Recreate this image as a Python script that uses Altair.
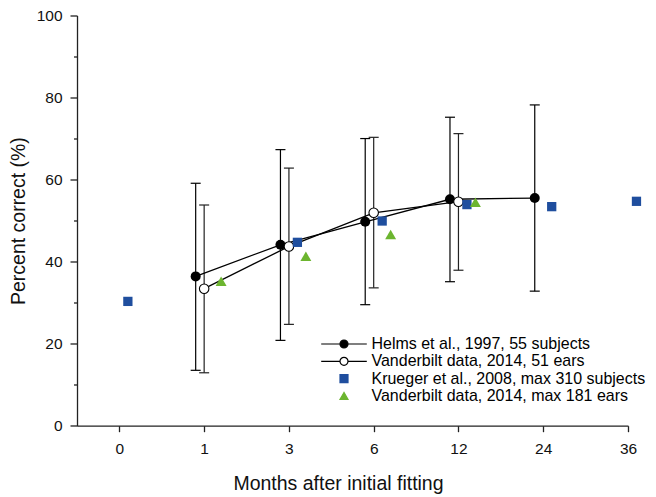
import altair as alt
import pandas as pd
import numpy as np

months = ["0", "1", "3", "6", "12", "24", "36"]

series_names = [
    "Helms et al., 1997, 55 subjects",
    "Vanderbilt data, 2014, 51 ears",
    "Krueger et al., 2008, max 310 subjects",
    "Vanderbilt data, 2014, max 181 ears",
]

helms_months = ["1", "3", "6", "12", "24"]
helms_mean = [36.4, 44.1, 49.7, 55.2, 55.5]
helms_lo = [13.5, 20.8, 29.5, 35.1, 32.8]
helms_hi = [59.1, 67.3, 70.0, 75.2, 78.2]

vu51_months = ["1", "3", "6", "12"]
vu51_mean = [33.4, 43.7, 51.9, 54.6]
vu51_lo = [12.9, 24.7, 33.6, 37.9]
vu51_hi = [53.8, 62.8, 70.3, 71.2]

krueger_months = ["0", "3", "6", "12", "24", "36"]
krueger_mean = [30.3, 44.7, 49.9, 53.9, 53.4, 54.7]

vu181_months = ["1", "3", "6", "12"]
vu181_mean = [35.2, 41.3, 46.6, 54.5]

y_major = [0, 20, 40, 60, 80, 100]
y_minor = [10, 30, 50, 70, 90]

BLUE = "#1f4e9e"
GREEN = "#6cb52f"
FONT = "Liberation Sans"


def idx(ms):
    return [months.index(m) for m in ms]


helms = pd.DataFrame({"idx": idx(helms_months), "mean": helms_mean, "lo": helms_lo, "hi": helms_hi})
vu51 = pd.DataFrame({"idx": idx(vu51_months), "mean": vu51_mean, "lo": vu51_lo, "hi": vu51_hi})
krueger = pd.DataFrame({"idx": idx(krueger_months), "mean": krueger_mean})
vu181 = pd.DataFrame({"idx": idx(vu181_months), "mean": vu181_mean})
legend_df = pd.DataFrame({"series": series_names, "idx": [np.nan] * 4, "mean": [np.nan] * 4})

xscale = alt.Scale(domain=[-0.5, 6], nice=False, zero=False)
yscale = alt.Scale(domain=[0, 100], nice=False, zero=False)

label_expr = "[" + ",".join("'" + m + "'" for m in months) + "][datum.value]"

x_axis = alt.Axis(
    values=list(range(len(months))), labelExpr=label_expr, tickSize=6, labelPadding=10,
    labelFontSize=15.5, title="Months after initial fitting", titleFontSize=19.5,
    titleFontWeight="normal", titleX=261, titleY=64, titleBaseline="alphabetic",
    grid=False, labelFlush=False,
)
y_axis = alt.Axis(
    values=y_major, tickSize=7, labelPadding=8, labelFontSize=15.5,
    title="Percent correct (%)", titleFontSize=19.5, titleFontWeight="normal",
    titleX=-53, titleBaseline="alphabetic", grid=False, labelFlush=False,
)
y_minor_axis = alt.Axis(
    values=y_minor, tickSize=3.5, labels=False, domain=False, title=None,
    grid=False, orient="left",
)

STEP = 551 / 6.5
OFF_H = -0.1 * STEP
OFF_V = 0.0
OFF_K = 0.1 * STEP
OFF_T = 0.2 * STEP


def X(axis=None):
    return alt.X("idx:Q", scale=xscale, axis=axis)


def Y(field="mean", axis=None):
    return alt.Y(field + ":Q", scale=yscale, axis=axis)


# error bars
h_rule = alt.Chart(helms).mark_rule(color="black", strokeWidth=1.2, xOffset=OFF_H).encode(
    x=X(x_axis), y=Y("lo", y_axis), y2="hi:Q")
v_rule = alt.Chart(vu51).mark_rule(color="#222", strokeWidth=1.2, xOffset=OFF_V).encode(
    x=X(), y=Y("lo", y_minor_axis), y2="hi:Q")

caps = []
for df, off, col in [(helms, OFF_H, "black"), (vu51, OFF_V, "#222")]:
    for f in ["lo", "hi"]:
        caps.append(alt.Chart(df).mark_tick(orient="horizontal", size=10, thickness=1.2,
                                            color=col, xOffset=off, opacity=1).encode(x=X(), y=Y(f)))

h_line = alt.Chart(helms).mark_line(color="black", strokeWidth=1.3, xOffset=OFF_H).encode(x=X(), y=Y())
v_line = alt.Chart(vu51).mark_line(color="black", strokeWidth=1.3, xOffset=OFF_V).encode(x=X(), y=Y())

h_pts = alt.Chart(helms).mark_point(shape="circle", filled=True, color="black", size=100,
                                    opacity=1, xOffset=OFF_H).encode(x=X(), y=Y())
v_pts = alt.Chart(vu51).mark_point(shape="circle", filled=False, fill="white", stroke="black",
                                   strokeWidth=1.1, size=90, opacity=1, xOffset=OFF_V).encode(x=X(), y=Y())
k_pts = alt.Chart(krueger).mark_point(shape="square", filled=True, color=BLUE, size=86,
                                      opacity=1, xOffset=OFF_K).encode(x=X(), y=Y())
t_pts = alt.Chart(vu181).mark_point(shape="triangle-up", filled=True, color=GREEN, size=120,
                                    opacity=1, xOffset=OFF_T).encode(x=X(), y=Y())

# legend-only layer (rows have no position, so nothing is drawn)
path_line_circle = "M-5.7,0H-1M1,0H5.7M1,0A1,1,0,1,1,-1,0A1,1,0,1,1,1,0Z"
leg = alt.Legend(
    title=None, orient="none", legendX=259, legendY=320.5, symbolSize=64,
    labelFontSize=16, labelColor="black", labelOffset=19.5, rowPadding=1.3,
    padding=0, symbolStrokeWidth=1.2, labelLimit=400,
)
legend_layer = alt.Chart(legend_df).mark_point(filled=True, opacity=1).encode(
    x=X(), y=Y(),
    shape=alt.Shape("series:N", scale=alt.Scale(domain=series_names,
                    range=[path_line_circle, path_line_circle, "square", "triangle-up"]), legend=leg),
    fill=alt.Fill("series:N", scale=alt.Scale(domain=series_names,
                  range=["black", "white", BLUE, GREEN]), legend=leg),
    stroke=alt.Stroke("series:N", scale=alt.Scale(domain=series_names,
                      range=["black", "black", BLUE, GREEN]), legend=leg),
)

chart = alt.layer(
    h_rule, v_rule, *caps, h_line, v_line, h_pts, v_pts, k_pts, t_pts, legend_layer
).resolve_axis(x="independent", y="independent").properties(
    width=551, height=410.2,
    autosize=alt.AutoSizeParams(type="none"),
    padding={"left": 69, "top": 7.5, "right": 20, "bottom": 71},
).configure(font=FONT).configure_view(stroke=None).configure_axis(
    domainColor="#222", domainWidth=1.3, tickColor="#222", tickWidth=1.3,
    labelColor="#111", titleColor="#111", labelFont=FONT, titleFont=FONT,
)

chart.save("out.html", embed_options={"renderer": "svg", "actions": False})
